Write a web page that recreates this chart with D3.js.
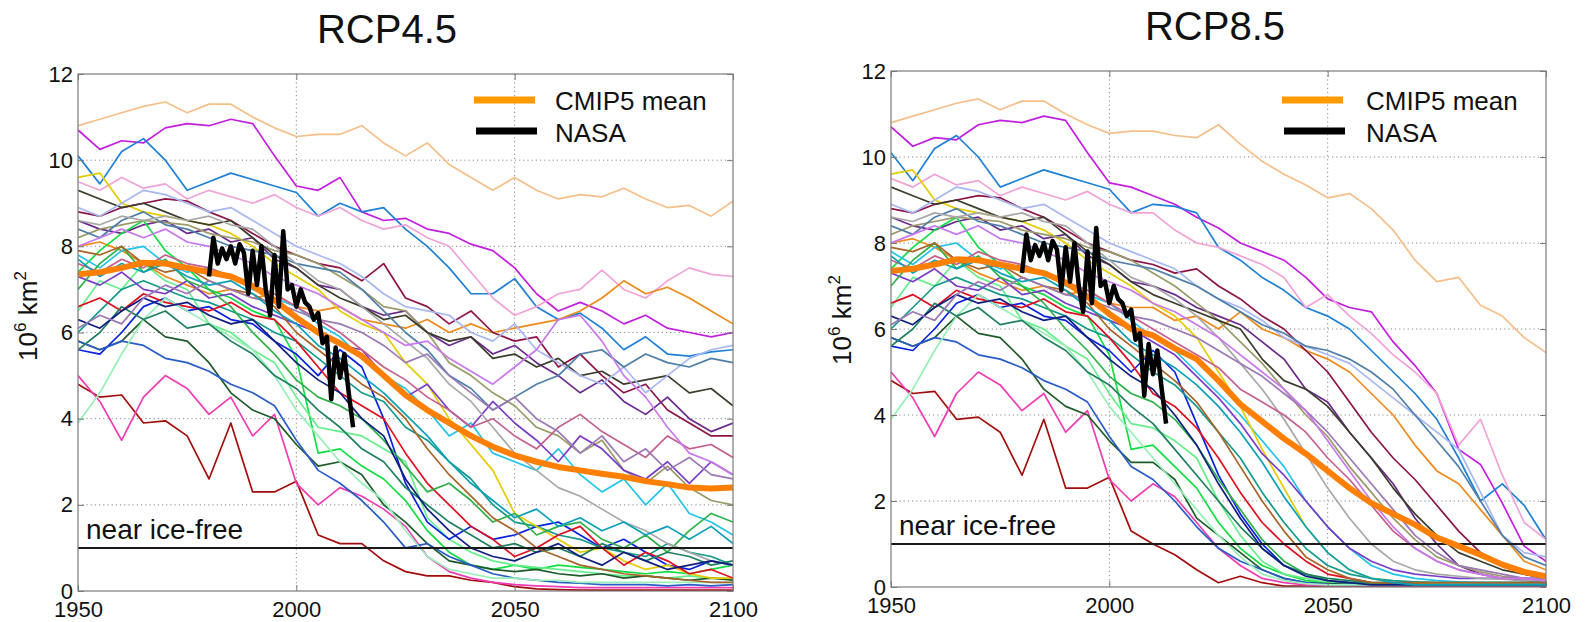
<!DOCTYPE html>
<html>
<head>
<meta charset="utf-8">
<script src="https://cdn.jsdelivr.net/npm/d3@7"></script>
<style>
  body { margin: 0; background: #fff; }
  svg text { font-family: "Liberation Sans", Arial, Helvetica, sans-serif; fill: #111; }
</style>
</head>
<body>
<svg id="chart" width="1585" height="622"></svg>
<script>
// September Arctic sea-ice extent (10^6 km^2), CMIP5 models, observations and multi-model mean

const xTicks = [1950, 2000, 2050, 2100];
const yTicks = [0, 2, 4, 6, 8, 10, 12];

const histYears = [1950, 1955, 1960, 1965, 1970, 1975, 1980, 1985, 1990, 1995, 2000, 2005];
const futureYears = [2010, 2015, 2020, 2025, 2030, 2035, 2040, 2045, 2050, 2055, 2060, 2065, 2070, 2075, 2080, 2085, 2090, 2095, 2100];

// historical run of each model, one row per model
const historical = [
  [10.8, 10.95, 11.1, 11.25, 11.35, 11.1, 11.3, 11.3, 11.0, 10.75, 10.55, 10.6],
  [10.7, 10.25, 10.45, 10.4, 10.75, 10.85, 10.8, 10.95, 10.85, 10.1, 9.4, 9.3],
  [10.1, 9.45, 10.2, 10.5, 10.0, 9.3, 9.5, 9.7, 9.55, 9.4, 9.25, 8.7],
  [9.5, 9.3, 9.6, 9.35, 9.45, 9.1, 9.3, 9.15, 9.0, 9.2, 8.9, 8.7],
  [8.0, 8.1, 7.9, 7.6, 7.3, 7.1, 6.9, 7.0, 6.8, 6.9, 6.6, 6.5],
  [8.8, 8.7, 8.9, 9.0, 9.1, 9.05, 8.8, 8.6, 8.3, 8.0, 7.8, 7.6],
  [8.6, 8.4, 8.3, 8.5, 8.6, 8.3, 8.4, 8.1, 8.2, 7.7, 7.5, 7.1],
  [4.8, 4.5, 4.55, 3.9, 3.95, 3.6, 2.6, 3.9, 2.3, 2.3, 2.55, 1.3],
  [5.0, 4.4, 3.5, 4.5, 5.0, 4.7, 4.1, 4.5, 3.6, 4.1, 2.5, 2.0],
  [7.4, 7.9, 8.3, 8.6, 7.9, 7.5, 7.0, 6.8, 6.5, 6.3, 5.4, 3.2],
  [6.5, 7.2, 7.0, 7.6, 7.2, 7.0, 6.2, 6.0, 5.6, 5.3, 4.5, 3.8],
  [5.8, 5.6, 5.8, 6.3, 5.9, 5.8, 5.3, 4.6, 4.2, 4.0, 3.4, 2.9],
  [5.6, 5.5, 6.0, 6.6, 6.8, 6.5, 6.6, 6.3, 6.2, 5.8, 5.5, 5.0],
  [5.8, 5.6, 5.8, 5.7, 5.4, 5.3, 5.1, 4.8, 4.6, 4.3, 3.5, 2.8],
  [6.0, 6.5, 7.0, 7.2, 7.0, 6.8, 6.7, 6.5, 6.3, 6.0, 5.8, 5.4],
  [7.8, 7.5, 7.9, 8.0, 7.6, 7.4, 7.5, 7.3, 7.0, 6.8, 6.6, 6.2],
  [9.6, 9.7, 9.0, 8.8, 8.7, 8.6, 8.5, 8.3, 8.0, 7.6, 7.3, 7.0],
  [6.6, 6.8, 6.5, 6.9, 6.7, 6.6, 6.5, 6.7, 6.4, 6.3, 5.8, 5.2],
  [8.2, 8.4, 8.5, 8.6, 8.55, 8.5, 8.3, 8.2, 8.1, 7.9, 7.8, 7.6],
  [9.3, 9.1, 8.9, 9.0, 8.8, 8.6, 8.5, 8.6, 8.2, 7.8, 7.5, 7.1],
  [8.9, 8.7, 9.0, 9.3, 9.2, 9.0, 8.8, 8.9, 8.6, 8.3, 8.0, 7.8],
  [8.4, 8.2, 8.6, 8.8, 8.5, 8.4, 8.2, 8.0, 7.9, 7.8, 7.6, 7.5],
  [7.3, 7.1, 7.4, 7.0, 6.9, 7.2, 6.8, 6.9, 6.6, 6.4, 6.2, 6.0],
  [7.0, 7.6, 8.0, 7.4, 7.7, 7.2, 7.0, 6.6, 6.0, 5.5, 4.9, 4.5],
  [3.9, 4.6, 5.5, 6.3, 6.8, 6.5, 6.2, 5.9, 5.6, 5.0, 4.2, 3.6],
  [8.6, 8.5, 8.7, 8.6, 8.7, 8.6, 8.7, 8.5, 8.4, 8.0, 7.6, 7.2],
  [5.6, 6.0, 6.6, 6.3, 6.5, 6.1, 6.2, 5.8, 5.5, 5.0, 4.7, 4.2],
  [7.6, 7.4, 7.7, 7.5, 7.8, 7.6, 7.5, 7.3, 7.1, 6.9, 6.6, 6.3],
  [6.3, 6.1, 6.5, 6.8, 6.6, 6.7, 6.4, 6.2, 6.3, 5.8, 5.3, 4.9],
  [7.9, 7.8, 8.0, 7.6, 7.4, 7.5, 7.2, 7.0, 6.9, 6.6, 6.0, 5.6],
  [6.1, 6.4, 6.2, 6.8, 7.1, 6.9, 7.2, 7.0, 6.8, 6.7, 6.5, 6.3],
  [7.7, 7.3, 7.6, 7.4, 7.6, 7.3, 7.1, 7.2, 6.9, 6.5, 6.2, 5.7],
  [8.0, 8.2, 8.4, 8.2, 8.4, 8.1, 8.0, 7.8, 7.6, 7.3, 7.1, 6.9]
];

// RCP4.5 continuation of each model
const rcp45 = [
  [10.6, 10.8, 10.4, 10.1, 10.4, 9.9, 9.6, 9.3, 9.6, 9.3, 9.1, 9.2, 9.15, 9.35, 9.1, 8.9, 8.95, 8.7, 9.05],
  [9.6, 8.8, 8.6, 8.65, 8.4, 8.3, 8.05, 7.9, 7.5, 6.9, 6.5, 6.7, 6.5, 6.2, 6.4, 6.1, 6.0, 5.9, 6.0],
  [9.0, 8.8, 8.9, 8.4, 8.0, 7.5, 6.9, 6.9, 7.25, 6.6, 6.3, 6.45, 6.1, 5.6, 5.9, 5.5, 5.45, 5.55, 5.6],
  [8.9, 8.6, 8.4, 8.5, 8.2, 8.0, 7.4, 6.8, 6.4, 6.6, 6.9, 7.0, 7.45, 7.0, 6.8, 7.2, 7.5, 7.35, 7.3],
  [6.6, 6.3, 6.2, 6.1, 6.3, 6.0, 6.2, 6.0, 6.1, 6.2, 6.3, 6.5, 6.8, 7.2, 6.9, 7.05, 6.8, 6.5, 6.2],
  [7.5, 7.2, 7.6, 6.8, 6.6, 6.2, 6.5, 6.0, 5.8, 5.9, 5.2, 5.5, 5.0, 4.6, 4.8, 4.2, 3.9, 3.6, 3.6],
  [7.0, 6.6, 6.4, 6.5, 6.0, 5.7, 5.9, 5.5, 5.7, 5.3, 5.0, 4.6, 4.9, 4.4, 4.1, 4.5, 4.0, 3.7, 3.9],
  [1.1, 1.1, 0.7, 0.45, 0.35, 0.35, 0.25, 0.2, 0.1, 0.05, 0.03, 0.02, 0.02, 0.02, 0.02, 0.02, 0.02, 0.02, 0.02],
  [2.4, 2.2, 1.9, 1.5, 0.8, 0.45, 0.3, 0.2, 0.15, 0.12, 0.1, 0.08, 0.08, 0.08, 0.08, 0.08, 0.08, 0.08, 0.08],
  [3.3, 2.9, 2.6, 2.1, 1.4, 0.9, 0.6, 0.5, 0.6, 0.5, 0.6, 0.55, 0.5, 0.45, 0.4, 0.45, 0.4, 0.5, 0.6],
  [3.7, 3.6, 3.3, 3.0, 1.7, 1.2, 0.9, 0.7, 0.6, 0.55, 0.5, 0.45, 0.4, 0.35, 0.35, 0.3, 0.35, 0.3, 0.3],
  [3.0, 2.7, 2.0, 1.6, 1.1, 0.7, 0.6, 0.5, 0.45, 0.5, 0.4, 0.35, 0.4, 0.3, 0.35, 0.3, 0.25, 0.3, 0.25],
  [5.6, 5.2, 4.0, 2.5, 1.6, 1.2, 1.5, 1.2, 1.3, 1.5, 1.6, 1.3, 1.0, 1.2, 0.9, 0.6, 0.5, 0.7, 0.6],
  [2.5, 2.1, 1.6, 1.0, 1.1, 0.8, 0.6, 0.4, 0.3, 0.25, 0.2, 0.18, 0.15, 0.15, 0.15, 0.12, 0.15, 0.12, 0.15],
  [5.0, 4.6, 4.4, 3.8, 3.5, 3.0, 2.6, 2.0, 1.6, 1.5, 1.3, 1.2, 1.0, 0.9, 0.8, 1.1, 0.9, 0.8, 0.6],
  [5.9, 5.4, 5.0, 4.7, 4.2, 3.6, 3.9, 3.2, 3.0, 2.8, 3.3, 2.7, 2.3, 2.6, 2.0, 2.5, 1.8, 1.6, 1.3],
  [6.5, 6.2, 6.0, 5.3, 4.8, 4.0, 3.4, 2.8, 1.8, 1.5, 1.2, 0.9, 1.0, 0.7, 0.5, 0.6, 0.4, 0.3, 0.3],
  [4.6, 4.3, 4.0, 3.2, 2.5, 2.0, 1.5, 1.2, 0.8, 1.0, 1.3, 1.5, 1.0, 0.6, 0.9, 0.7, 0.4, 0.5, 0.3],
  [7.3, 7.0, 6.6, 6.5, 6.0, 5.3, 5.0, 4.6, 4.3, 3.8, 3.6, 3.2, 3.5, 2.8, 2.5, 2.9, 2.4, 2.1, 2.0],
  [6.8, 6.6, 6.3, 6.4, 6.0, 5.8, 5.9, 5.4, 5.5, 5.2, 5.4, 5.0, 5.1, 4.8, 4.9, 5.0, 4.6, 4.7, 4.3],
  [7.6, 7.3, 6.9, 6.6, 6.5, 6.4, 6.0, 5.8, 6.2, 5.6, 5.3, 5.0, 4.8, 5.2, 4.6, 5.0, 5.4, 5.6, 5.7],
  [7.4, 7.0, 6.5, 6.0, 5.6, 5.0, 4.7, 4.2, 4.5, 4.8, 5.0, 5.5, 5.6, 5.2, 5.5, 5.3, 5.2, 5.4, 5.3],
  [5.7, 5.6, 5.0, 4.5, 4.8, 4.2, 3.8, 4.4, 3.9, 3.5, 3.0, 3.6, 3.3, 2.8, 2.6, 3.0, 2.5, 3.0, 2.7],
  [4.3, 4.0, 3.5, 2.9, 2.3, 2.5, 2.1, 1.6, 1.8, 1.3, 1.5, 1.6, 1.2, 1.0, 1.3, 0.9, 1.4, 1.8, 1.6],
  [3.0, 2.5, 2.1, 1.4, 0.8, 0.5, 0.4, 0.3, 0.3, 0.25, 0.25, 0.2, 0.2, 0.2, 0.2, 0.2, 0.2, 0.2, 0.2],
  [7.0, 6.6, 6.2, 5.8, 5.4, 4.8, 4.4, 3.8, 3.2, 2.8, 2.4, 2.2, 1.9, 1.6, 1.4, 1.1, 0.9, 0.7, 0.6],
  [3.8, 3.3, 3.0, 2.4, 2.0, 1.6, 1.3, 1.0, 1.1, 0.9, 1.0, 0.8, 1.1, 0.9, 0.7, 0.9, 0.8, 0.6, 0.7],
  [6.0, 5.6, 5.2, 4.9, 4.5, 4.2, 3.8, 4.0, 3.6, 3.3, 3.8, 4.1, 3.7, 3.4, 3.1, 3.6, 3.3, 3.4, 3.1],
  [4.6, 4.0, 3.6, 2.6, 1.9, 1.4, 1.0, 0.8, 0.7, 0.9, 1.1, 0.8, 0.6, 0.9, 0.7, 0.5, 0.6, 0.7, 0.6],
  [5.2, 4.8, 4.5, 4.0, 3.3, 2.7, 2.2, 1.7, 1.4, 1.0, 0.8, 0.6, 0.5, 0.4, 0.35, 0.3, 0.25, 0.2, 0.2],
  [6.2, 6.0, 5.7, 5.3, 5.5, 5.0, 4.6, 4.2, 4.5, 4.0, 3.7, 3.2, 3.6, 3.0, 3.3, 2.8, 3.1, 2.7, 2.6],
  [5.4, 5.0, 4.6, 4.1, 3.6, 3.0, 2.5, 2.1, 1.7, 1.9, 1.5, 1.7, 1.4, 1.6, 1.3, 1.5, 1.2, 1.5, 1.1],
  [6.6, 6.3, 6.0, 5.7, 5.8, 5.4, 5.1, 4.8, 5.2, 5.6, 6.3, 6.4, 5.8, 5.0, 4.5, 3.8, 3.2, 3.0, 2.7]
];

// RCP8.5 continuation of each model
const rcp85 = [
  [10.6, 10.5, 10.45, 10.75, 10.3, 9.9, 9.6, 9.35, 9.05, 9.15, 8.8, 8.3, 7.6, 7.1, 7.2, 6.55, 6.3, 5.8, 5.45],
  [9.1, 8.9, 8.6, 8.35, 8.0, 7.8, 7.6, 7.2, 6.7, 6.5, 6.4, 5.7, 5.15, 4.5, 3.2, 2.85, 1.95, 0.95, 0.6],
  [8.9, 8.85, 8.7, 7.9, 7.6, 7.2, 6.9, 6.5, 6.3, 6.0, 5.5, 5.0, 4.5, 3.9, 3.0, 2.0, 2.4, 1.9, 1.1],
  [8.7, 8.3, 8.0, 7.9, 7.7, 7.5, 7.2, 6.5, 6.8, 6.3, 5.9, 5.4, 5.0, 4.5, 3.3, 3.9, 2.6, 1.5, 1.1],
  [6.5, 6.2, 6.3, 6.0, 6.4, 6.0, 5.8, 5.5, 5.3, 5.0, 4.5, 4.0, 3.3, 2.7, 2.4, 1.8, 1.2, 0.6, 0.4],
  [7.5, 7.3, 7.4, 7.0, 6.7, 6.3, 6.0, 5.5, 5.0, 4.3, 3.6, 3.0, 2.5, 1.9, 1.3, 0.8, 0.5, 0.3, 0.2],
  [7.0, 6.8, 6.5, 6.3, 6.1, 5.7, 5.3, 4.6, 4.3, 3.6, 3.0, 2.4, 1.6, 1.0, 0.5, 0.3, 0.2, 0.15, 0.1],
  [1.0, 0.75, 0.4, 0.1, 0.25, 0.1, 0.02, 0.02, 0.01, 0.01, 0.01, 0.01, 0.01, 0.01, 0.01, 0.01, 0.01, 0.01, 0.01],
  [2.4, 2.1, 1.5, 0.9, 0.5, 0.2, 0.1, 0.05, 0.03, 0.03, 0.03, 0.03, 0.03, 0.03, 0.03, 0.03, 0.03, 0.03, 0.03],
  [3.3, 2.8, 2.3, 1.5, 0.9, 0.5, 0.3, 0.15, 0.1, 0.08, 0.06, 0.05, 0.05, 0.05, 0.05, 0.05, 0.05, 0.05, 0.05],
  [3.7, 3.4, 3.0, 2.0, 1.2, 0.6, 0.3, 0.2, 0.1, 0.08, 0.06, 0.05, 0.05, 0.05, 0.05, 0.05, 0.05, 0.05, 0.05],
  [2.9, 2.5, 1.6, 1.2, 0.8, 0.4, 0.2, 0.1, 0.08, 0.06, 0.05, 0.05, 0.05, 0.05, 0.05, 0.05, 0.05, 0.05, 0.05],
  [5.5, 5.0, 3.8, 2.6, 1.7, 1.0, 0.5, 0.3, 0.15, 0.1, 0.08, 0.06, 0.05, 0.05, 0.05, 0.05, 0.05, 0.05, 0.05],
  [2.5, 2.0, 1.4, 0.9, 0.6, 0.4, 0.2, 0.1, 0.06, 0.05, 0.05, 0.05, 0.05, 0.05, 0.05, 0.05, 0.05, 0.05, 0.05],
  [5.0, 4.7, 4.2, 3.6, 3.0, 2.2, 1.5, 0.9, 0.5, 0.3, 0.2, 0.15, 0.12, 0.1, 0.1, 0.1, 0.1, 0.1, 0.1],
  [5.8, 5.5, 5.0, 4.5, 4.0, 3.4, 2.8, 2.0, 1.4, 0.9, 0.5, 0.3, 0.2, 0.15, 0.12, 0.1, 0.1, 0.1, 0.1],
  [6.6, 6.3, 5.8, 5.0, 4.2, 3.2, 2.3, 1.4, 0.8, 0.4, 0.2, 0.1, 0.08, 0.06, 0.05, 0.05, 0.05, 0.05, 0.05],
  [4.5, 4.2, 3.7, 3.0, 2.2, 1.5, 1.0, 0.6, 0.3, 0.2, 0.1, 0.08, 0.06, 0.05, 0.05, 0.05, 0.05, 0.05, 0.05],
  [7.3, 7.0, 6.6, 6.2, 5.7, 5.2, 4.6, 4.0, 3.5, 2.8, 2.2, 1.6, 1.1, 0.7, 0.5, 0.35, 0.25, 0.2, 0.15],
  [6.8, 6.6, 6.4, 6.2, 6.0, 5.3, 4.8, 4.6, 4.2, 3.6, 3.0, 2.3, 1.7, 1.2, 0.8, 0.6, 0.4, 0.3, 0.2],
  [7.6, 7.4, 7.0, 6.7, 6.5, 6.2, 5.8, 5.6, 5.4, 5.2, 4.8, 4.4, 4.0, 3.6, 3.2, 2.2, 1.2, 0.8, 0.7],
  [7.4, 7.2, 7.0, 6.7, 6.4, 6.1, 5.9, 5.6, 5.5, 5.3, 5.0, 4.6, 4.0, 3.4, 2.8, 2.0, 1.2, 0.7, 0.5],
  [5.7, 5.4, 4.9, 4.4, 3.8, 3.1, 2.6, 2.0, 1.4, 0.9, 0.6, 0.4, 0.3, 0.25, 0.2, 0.2, 0.2, 0.2, 0.2],
  [4.3, 3.9, 3.3, 2.5, 1.8, 1.1, 0.6, 0.3, 0.15, 0.1, 0.08, 0.05, 0.05, 0.05, 0.05, 0.05, 0.05, 0.05, 0.05],
  [3.0, 2.4, 1.8, 1.2, 0.7, 0.3, 0.15, 0.08, 0.05, 0.05, 0.05, 0.05, 0.05, 0.05, 0.05, 0.05, 0.05, 0.05, 0.05],
  [7.0, 6.7, 6.3, 5.8, 5.2, 4.6, 3.9, 3.1, 2.3, 1.6, 1.0, 0.6, 0.4, 0.3, 0.25, 0.2, 0.18, 0.15, 0.15],
  [3.8, 3.2, 2.6, 2.0, 1.4, 0.9, 0.5, 0.3, 0.2, 0.15, 0.1, 0.1, 0.1, 0.1, 0.1, 0.1, 0.1, 0.1, 0.1],
  [6.0, 5.7, 5.4, 5.1, 4.6, 4.3, 4.0, 3.6, 3.0, 2.5, 1.9, 1.3, 0.9, 0.6, 0.4, 0.3, 0.2, 0.2, 0.15],
  [4.6, 4.0, 3.3, 2.4, 1.6, 0.9, 0.5, 0.25, 0.15, 0.1, 0.05, 0.05, 0.05, 0.05, 0.05, 0.05, 0.05, 0.05, 0.05],
  [5.2, 4.8, 4.3, 3.6, 2.8, 2.0, 1.3, 0.7, 0.4, 0.2, 0.1, 0.1, 0.1, 0.1, 0.1, 0.1, 0.1, 0.1, 0.1],
  [6.2, 6.0, 5.8, 5.5, 5.2, 4.9, 4.5, 4.1, 3.6, 3.0, 2.4, 1.8, 1.2, 0.8, 0.5, 0.4, 0.3, 0.2, 0.2],
  [5.4, 5.1, 4.7, 4.2, 3.6, 2.9, 2.1, 1.4, 0.8, 0.4, 0.2, 0.1, 0.05, 0.05, 0.05, 0.05, 0.05, 0.05, 0.05],
  [6.6, 6.4, 6.1, 5.8, 5.4, 5.0, 4.6, 4.1, 3.4, 2.7, 2.0, 1.4, 0.9, 0.6, 0.4, 0.3, 0.2, 0.2, 0.15]
];

// CMIP5 multi-model mean
const meanHistorical = [7.35, 7.4, 7.5, 7.62, 7.6, 7.5, 7.4, 7.3, 7.08, 6.75, 6.35, 6.0];
const meanRcp45 = [5.75, 5.45, 5.0, 4.55, 4.2, 3.9, 3.6, 3.35, 3.15, 3.0, 2.88, 2.8, 2.72, 2.65, 2.55, 2.48, 2.4, 2.38, 2.4];
const meanRcp85 = [5.85, 5.55, 5.3, 4.8, 4.25, 3.85, 3.45, 3.1, 2.7, 2.3, 1.95, 1.7, 1.45, 1.15, 0.95, 0.75, 0.52, 0.35, 0.25];

// observed record
const nasaYears = [1980, 1981, 1982, 1983, 1984, 1985, 1986, 1987, 1988, 1989, 1990, 1991, 1992, 1993, 1994, 1995, 1996,
  1997, 1998, 1999, 2000, 2001, 2002, 2003, 2004, 2005, 2006, 2007, 2008, 2009, 2010, 2011, 2012, 2013];
const nasaValues = [7.3, 8.2, 7.6, 7.95, 7.7, 8.0, 7.6, 8.05, 7.85, 6.9, 7.9, 7.1, 8.0, 7.0, 6.4, 7.8, 6.6,
  8.35, 7.0, 7.1, 6.6, 7.0, 6.7, 6.6, 6.3, 6.45, 5.75, 5.9, 4.45, 5.65, 4.95, 5.5, 4.6, 3.8];

const iceFreeLevel = 1;

const modelColors = [
  "#f6bf8a", "#c21fe0", "#1f80d6", "#f1a3d8", "#ee8a1c", "#8c1446", "#6a2a8c", "#a30d0d",
  "#f03cb4", "#12dd44", "#66ee8c", "#1f5a2a", "#0a22e0", "#2a5cc8", "#139a8a", "#22c4ea",
  "#e6cc00", "#e01020", "#9a9a6a", "#3c3c2c", "#a8b8f2", "#4f7fa8", "#7a3cc8", "#2fb04a",
  "#98f0b8", "#a8a8a8", "#1f8060", "#c4608e", "#101e80", "#a86428", "#9c78b4", "#0aa0b8", "#c878ec"
];

const panels = [
  { title: "RCP4.5", future: rcp45, mean: meanRcp45,
    box: { l: 78, t: 74, r: 733, b: 591 }, titleX: 387, titleY: 43, ylabX: 37, ylabY: 316,
    legend: { x1: 474, x2: 535, y: 100, tx: 555 }, iceX: 86 },
  { title: "RCP8.5", future: rcp85, mean: meanRcp85,
    box: { l: 891, t: 71, r: 1546, b: 587 }, titleX: 1215, titleY: 40, ylabX: 851, ylabY: 320,
    legend: { x1: 1282, x2: 1343, y: 100, tx: 1366 }, iceX: 899 }
];

const svg = d3.select("#chart");
const defs = svg.append("defs");

panels.forEach((p, i) => {
  const x = d3.scaleLinear().domain([1950, 2100]).range([p.box.l, p.box.r]);
  const y = d3.scaleLinear().domain([0, 12]).range([p.box.b, p.box.t]);
  const g = svg.append("g");
  const w = p.box.r - p.box.l, h = p.box.b - p.box.t;

  defs.append("clipPath").attr("id", "plotclip" + i)
    .append("rect").attr("x", p.box.l).attr("y", p.box.t).attr("width", w).attr("height", h);

  // dotted grid
  g.append("g").selectAll("line").data(xTicks.slice(1, -1)).join("line")
    .attr("x1", d => x(d)).attr("x2", d => x(d)).attr("y1", p.box.t).attr("y2", p.box.b)
    .attr("stroke", "#8a8a8a").attr("stroke-width", 1).attr("stroke-dasharray", "1.2,3");
  g.append("g").selectAll("line").data(yTicks.slice(1, -1)).join("line")
    .attr("y1", d => y(d)).attr("y2", d => y(d)).attr("x1", p.box.l).attr("x2", p.box.r)
    .attr("stroke", "#8a8a8a").attr("stroke-width", 1).attr("stroke-dasharray", "1.2,3");

  const line = d3.line().x(d => x(d[0])).y(d => y(d[1]));
  const plot = g.append("g").attr("clip-path", `url(#plotclip${i})`);

  // individual models
  historical.forEach((hv, m) => {
    const pts = histYears.map((yr, k) => [yr, hv[k]])
      .concat(futureYears.map((yr, k) => [yr, p.future[m][k]]));
    plot.append("path").attr("d", line(pts)).attr("fill", "none")
      .attr("stroke", modelColors[m]).attr("stroke-width", 1.7)
      .attr("stroke-linejoin", "round");
  });

  // near ice-free threshold
  plot.append("line").attr("x1", x(1950)).attr("x2", x(2100))
    .attr("y1", y(iceFreeLevel)).attr("y2", y(iceFreeLevel))
    .attr("stroke", "#1a1a1a").attr("stroke-width", 2);

  // multi-model mean
  const meanPts = histYears.map((yr, k) => [yr, meanHistorical[k]])
    .concat(futureYears.map((yr, k) => [yr, p.mean[k]]));
  plot.append("path").attr("d", line(meanPts)).attr("fill", "none")
    .attr("stroke", "#ff8000").attr("stroke-width", 6).attr("stroke-linejoin", "round");

  // observations
  plot.append("path").attr("d", line(nasaYears.map((yr, k) => [yr, nasaValues[k]])))
    .attr("fill", "none").attr("stroke", "#000").attr("stroke-width", 4.5)
    .attr("stroke-linejoin", "round");

  // box
  g.append("rect").attr("x", p.box.l).attr("y", p.box.t).attr("width", w).attr("height", h)
    .attr("fill", "none").attr("stroke", "#7a7a7a").attr("stroke-width", 1.2);

  // axes with inward ticks
  const styleAxis = sel => {
    sel.select(".domain").remove();
    sel.selectAll(".tick line").attr("stroke", "#7a7a7a");
    sel.selectAll("text").attr("font-size", 22).attr("font-family", "Liberation Sans, Arial, sans-serif").attr("fill", "#111");
  };
  g.append("g").attr("transform", `translate(0,${p.box.b})`)
    .call(d3.axisBottom(x).tickValues(xTicks).tickFormat(d3.format("d")).tickSizeInner(-6).tickSizeOuter(0).tickPadding(10))
    .call(styleAxis);
  g.append("g").attr("transform", `translate(${p.box.l},0)`)
    .call(d3.axisLeft(y).tickValues(yTicks).tickSizeInner(-6).tickSizeOuter(0).tickPadding(5))
    .call(styleAxis);
  g.append("g").attr("transform", `translate(0,${p.box.t})`)
    .call(d3.axisTop(x).tickValues(xTicks).tickFormat("").tickSizeInner(-6).tickSizeOuter(0))
    .call(styleAxis);
  g.append("g").attr("transform", `translate(${p.box.r},0)`)
    .call(d3.axisRight(y).tickValues(yTicks).tickFormat("").tickSizeInner(-6).tickSizeOuter(0))
    .call(styleAxis);

  // title
  g.append("text").attr("x", p.titleX).attr("y", p.titleY).attr("text-anchor", "middle")
    .attr("font-size", 40).text(p.title);

  // y label: 10^6 km^2
  const yl = g.append("text").attr("transform", `translate(${p.ylabX},${p.ylabY}) rotate(-90)`)
    .attr("text-anchor", "middle").attr("font-size", 26);
  yl.append("tspan").text("10");
  yl.append("tspan").attr("dy", -11).attr("font-size", 17).text("6");
  yl.append("tspan").attr("dy", 11).text(" km");
  yl.append("tspan").attr("dy", -11).attr("font-size", 17).text("2");

  // near ice-free label
  g.append("text").attr("x", p.iceX).attr("y", y(iceFreeLevel) - 9)
    .attr("font-size", 28).text("near ice-free");

  // legend
  const lg = g.append("g");
  lg.append("line").attr("x1", p.legend.x1).attr("x2", p.legend.x2)
    .attr("y1", p.legend.y).attr("y2", p.legend.y).attr("stroke", "#ff9a00").attr("stroke-width", 7);
  lg.append("text").attr("x", p.legend.tx).attr("y", p.legend.y + 10).attr("font-size", 26).text("CMIP5 mean");
  lg.append("line").attr("x1", p.legend.x1 + 2).attr("x2", p.legend.x2 + 2)
    .attr("y1", p.legend.y + 31).attr("y2", p.legend.y + 31).attr("stroke", "#000").attr("stroke-width", 7);
  lg.append("text").attr("x", p.legend.tx).attr("y", p.legend.y + 42).attr("font-size", 26).text("NASA");
});
</script>
</body>
</html>
